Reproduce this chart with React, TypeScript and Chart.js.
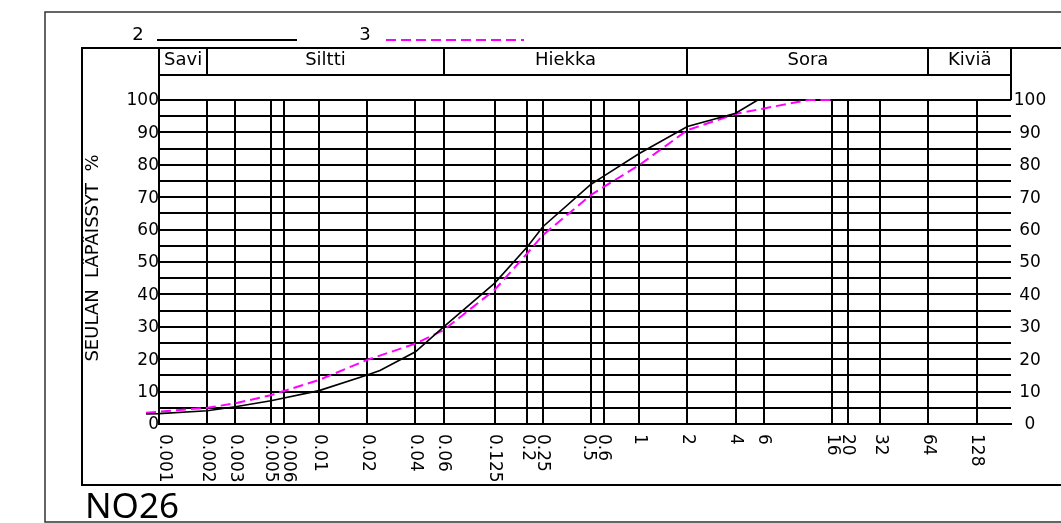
import React, { useEffect, useRef } from "react";
import { Chart, registerables } from "chart.js";

Chart.register(...registerables);

// ---- data ----
const sieveSizes = [0.001, 0.002, 0.003, 0.005, 0.006, 0.01, 0.02, 0.04, 0.06, 0.125, 0.2, 0.25, 0.5, 0.6, 1, 2, 4, 6, 16, 20, 32, 64, 128];
const sieveLabels = ["0.001", "0.002", "0.003", "0.005", "0.006", "0.01", "0.02", "0.04", "0.06", "0.125", "0.2", "0.25", "0.5", "0.6", "1", "2", "4", "6", "16", "20", "32", "64", "128"];
const passLevels = [0, 10, 20, 30, 40, 50, 60, 70, 80, 90, 100];
const fractionNames = ["Savi", "Siltti", "Hiekka", "Sora", "Kiviä"];
const fractionBounds = [0.001, 0.002, 0.06, 2, 64, 210];
const seriesNames = ["2", "3"];
const sampleId = "NO26";
const yTitle = "SEULAN  LÄPÄISSYT  %";

const sample2Sizes = [0.00083, 0.001, 0.002, 0.003, 0.005, 0.01, 0.02, 0.024, 0.04, 0.06, 0.125, 0.2, 0.25, 0.5, 0.6, 1, 2, 4, 5.5];
const sample2Passing = [3.1, 3.2, 4.1, 5.3, 7.2, 10.3, 15.1, 16.5, 22.3, 30.0, 43.5, 54.7, 60.9, 74.0, 76.5, 83.5, 91.8, 95.9, 100];

const sample3Sizes = [0.00083, 0.001, 0.002, 0.003, 0.005, 0.01, 0.02, 0.04, 0.06, 0.125, 0.2, 0.25, 0.5, 0.6, 1, 2, 4, 6, 11.4, 16];
const sample3Passing = [3.5, 3.8, 5.0, 6.4, 8.9, 13.6, 19.8, 24.8, 29.0, 41.4, 52.7, 58.3, 70.7, 73.2, 79.9, 90.7, 95.7, 97.4, 100, 100];

const X_MIN = 0.001;
const X_MAX = 210;

const FONT = "'DejaVu Sans', sans-serif";
const BLACK = "#000000";
const MAGENTA = "#ff00ff";

const decorPlugin = {
  id: "decor",
  afterDraw(chart: any) {
    const ctx: CanvasRenderingContext2D = chart.ctx;
    const xs = chart.scales.x;
    const ys = chart.scales.y;
    const area = chart.chartArea;
    const W = chart.width;
    ctx.save();

    // page frame
    ctx.strokeStyle = "#333";
    ctx.lineWidth = 1.5;
    ctx.beginPath();
    ctx.moveTo(W + 5, 12);
    ctx.lineTo(45, 12);
    ctx.lineTo(45, 522);
    ctx.lineTo(W + 5, 522);
    ctx.stroke();

    // inner frame
    ctx.strokeStyle = BLACK;
    ctx.lineWidth = 2;
    ctx.beginPath();
    ctx.moveTo(W + 5, 48);
    ctx.lineTo(82, 48);
    ctx.lineTo(82, 485);
    ctx.lineTo(W + 5, 485);
    ctx.stroke();

    // header
    const hTop = 48;
    const hMid = 75;
    ctx.beginPath();
    ctx.moveTo(area.left, area.top);
    ctx.lineTo(area.left, hTop);
    ctx.lineTo(area.right, hTop);
    ctx.lineTo(area.right, area.top);
    ctx.moveTo(area.left, hMid);
    ctx.lineTo(area.right, hMid);
    for (let i = 1; i < fractionBounds.length - 1; i++) {
      const px = Math.round(xs.getPixelForValue(fractionBounds[i]));
      ctx.moveTo(px, hTop);
      ctx.lineTo(px, hMid);
    }
    ctx.stroke();
    ctx.fillStyle = BLACK;
    ctx.font = `18px ${FONT}`;
    ctx.textAlign = "center";
    ctx.textBaseline = "middle";
    for (let i = 0; i < fractionNames.length; i++) {
      const a = i === 0 ? area.left : xs.getPixelForValue(fractionBounds[i]);
      const b = i === fractionNames.length - 1 ? area.right : xs.getPixelForValue(fractionBounds[i + 1]);
      ctx.fillText(fractionNames[i], (a + b) / 2, 60);
    }

    // legend
    ctx.font = `18px ${FONT}`;
    ctx.textAlign = "center";
    ctx.textBaseline = "alphabetic";
    ctx.fillText(seriesNames[0], 138, 40);
    ctx.fillText(seriesNames[1], 365, 40);
    ctx.strokeStyle = chart.data.datasets[0].borderColor;
    ctx.lineWidth = 2;
    ctx.beginPath();
    ctx.moveTo(157, 40);
    ctx.lineTo(297, 40);
    ctx.stroke();
    ctx.strokeStyle = chart.data.datasets[1].borderColor;
    ctx.setLineDash([10, 5]);
    ctx.beginPath();
    ctx.moveTo(386, 40);
    ctx.lineTo(524, 40);
    ctx.stroke();
    ctx.setLineDash([]);

    // y labels left and right
    ctx.fillStyle = BLACK;
    ctx.font = `17px ${FONT}`;
    ctx.textBaseline = "middle";
    for (const v of passLevels) {
      const py = ys.getPixelForValue(v) + 1;
      ctx.textAlign = "right";
      ctx.fillText(String(v), area.left, py);
      ctx.textAlign = "center";
      ctx.fillText(String(v), 1030, py);
    }

    // x labels rotated clockwise
    const shift: Record<string, number> = { "0.001": 5, "0.006": 5, "0.5": -3 };
    ctx.textAlign = "left";
    ctx.textBaseline = "middle";
    for (let i = 0; i < sieveSizes.length; i++) {
      const px = xs.getPixelForValue(sieveSizes[i]) + (shift[sieveLabels[i]] || 0);
      ctx.save();
      ctx.translate(px, area.bottom + 10);
      ctx.rotate(Math.PI / 2);
      ctx.fillText(sieveLabels[i], 0, 0);
      ctx.restore();
    }

    // y title
    ctx.save();
    ctx.translate(93, 258);
    ctx.rotate(-Math.PI / 2);
    ctx.textAlign = "center";
    ctx.textBaseline = "middle";
    ctx.font = `18px ${FONT}`;
    ctx.fillText(yTitle, 0, 0);
    ctx.restore();

    // sample id
    ctx.font = "35px 'Noto Sans', sans-serif";
    ctx.textAlign = "left";
    ctx.textBaseline = "alphabetic";
    ctx.fillText(sampleId, 85, 518);

    ctx.restore();
  },
};

export default function App() {
  const ref = useRef<HTMLCanvasElement | null>(null);

  useEffect(() => {
    if (!ref.current) return;
    const chart = new Chart(ref.current, {
      type: "line",
      data: {
        datasets: [
          {
            label: seriesNames[0],
            data: sample2Sizes.map((x, i) => ({ x, y: sample2Passing[i] })),
            borderColor: BLACK,
            borderWidth: 1.6,
            pointRadius: 0,
            tension: 0,
            fill: false,
            clip: false as any,
          },
          {
            label: seriesNames[1],
            data: sample3Sizes.map((x, i) => ({ x, y: sample3Passing[i] })),
            borderColor: MAGENTA,
            borderWidth: 2,
            borderDash: [10, 5],
            pointRadius: 0,
            tension: 0,
            fill: false,
            clip: false as any,
          },
        ],
      },
      options: {
        responsive: false,
        animation: false,
        devicePixelRatio: 1,
        layout: { padding: { left: 159, right: 50, top: 100, bottom: 99 } },
        plugins: { legend: { display: false }, tooltip: { enabled: false } },
        scales: {
          x: {
            type: "logarithmic",
            min: X_MIN,
            max: X_MAX,
            afterBuildTicks: (scale: any) => {
              scale.ticks = sieveSizes.map((v) => ({ value: v }));
            },
            ticks: { display: false },
            grid: { color: BLACK, lineWidth: 2, drawTicks: false },
            border: { display: true, color: BLACK, width: 2 },
          },
          y: {
            type: "linear",
            min: 0,
            max: 100,
            ticks: { display: false, stepSize: 5 },
            grid: { color: BLACK, lineWidth: 2, drawTicks: false },
            border: { display: true, color: BLACK, width: 2 },
          },
        },
      },
      plugins: [decorPlugin],
    });
    return () => chart.destroy();
  }, []);

  return (
    <div style={{ position: "absolute", left: 0, top: 0, width: 1061, height: 523, background: "#fff" }}>
      <canvas ref={ref} width={1061} height={523} style={{ display: "block" }} />
    </div>
  );
}
